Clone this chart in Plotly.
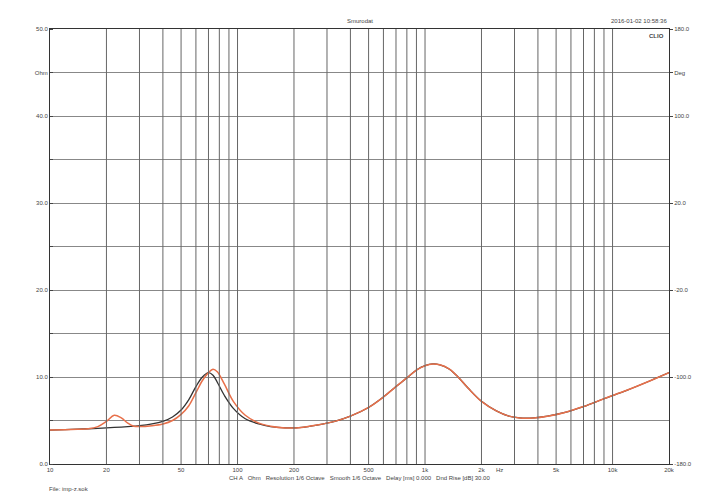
import plotly.graph_objects as go

# impedance curves (Hz, Ohm)
freq = [10, 12, 14, 16, 18, 20, 22, 24, 26, 28, 30, 35, 40, 45, 50, 55, 60, 65, 70, 74, 78, 85,
        95, 110, 130, 150, 180, 220, 270, 330, 400, 500, 600, 700, 800, 900, 1000, 1100, 1200,
        1350, 1500, 1700, 2000, 2400, 2800, 3200, 3800, 4500, 5500, 7000, 9000, 12000, 16000, 20000]
black = [3.9, 3.95, 4.0, 4.05, 4.1, 4.15, 4.2, 4.25, 4.3, 4.35, 4.4, 4.6, 4.9, 5.4, 6.2, 7.4, 8.9, 10.0, 10.5, 10.2, 9.4, 7.9,
         6.4, 5.2, 4.6, 4.3, 4.15, 4.2, 4.5, 4.9, 5.5, 6.5, 7.7, 8.9, 9.9, 10.8, 11.3, 11.5, 11.4,
         10.9, 10.0, 8.7, 7.2, 6.1, 5.5, 5.3, 5.3, 5.5, 5.9, 6.6, 7.5, 8.5, 9.6, 10.5]
red = [3.9, 3.95, 4.0, 4.05, 4.3, 4.9, 5.6, 5.3, 4.7, 4.35, 4.3, 4.4, 4.6, 5.0, 5.7, 6.7, 8.2, 9.6, 10.5, 10.9, 10.6, 9.2,
       7.2, 5.6, 4.7, 4.35, 4.15, 4.2, 4.5, 4.9, 5.5, 6.5, 7.7, 8.9, 9.9, 10.8, 11.3, 11.5, 11.4,
       10.9, 10.0, 8.7, 7.2, 6.1, 5.5, 5.3, 5.3, 5.5, 5.9, 6.6, 7.5, 8.5, 9.6, 10.5]

x_ticks = [10, 20, 50, 100, 200, 500, 1000, 2000, 2500, 5000, 10000, 20000]
x_labels = ["10", "20", "50", "100", "200", "500", "1k", "2k", "Hz", "5k", "10k", "20k"]
grid_freqs = [20, 30, 40, 50, 60, 70, 80, 90, 100, 200, 300, 400, 500, 600, 700, 800, 900,
              1000, 2000, 3000, 4000, 5000, 6000, 7000, 8000, 9000, 10000]
y_ticks = [0, 10, 20, 30, 40, 45, 50]
y_labels = ["0.0", "10.0", "20.0", "30.0", "40.0", "Ohm", "50.0"]
deg_labels = ["-180.0", "-100.0", "-20.0", "20.0", "100.0", "Deg", "180.0"]

fig = go.Figure()
fig.add_trace(go.Scatter(x=freq, y=black, mode="lines", line=dict(color="#333333", width=1.3),
                         line_shape="spline", showlegend=False))
fig.add_trace(go.Scatter(x=freq, y=red, mode="lines", line=dict(color="#e8704a", width=1.5),
                         line_shape="spline", showlegend=False))
# dummy trace to show right-hand axis
fig.add_trace(go.Scatter(x=[10], y=[0], yaxis="y2", mode="markers", marker=dict(opacity=0),
                         showlegend=False, hoverinfo="skip"))

for f in grid_freqs:
    fig.add_vline(x=f, line=dict(color="#666666", width=1))

tick_font = dict(family="Liberation Sans", size=6, color="#444444")
fig.update_layout(
    width=705, height=497, plot_bgcolor="white", paper_bgcolor="white",
    margin=dict(l=42, r=44, t=21, b=41),
    xaxis=dict(type="log", range=[1, 4.30103], tickvals=x_ticks, ticktext=x_labels,
               showgrid=False, showline=True, linecolor="#333333", mirror=True,
               tickfont=tick_font, ticks="", automargin=False),
    yaxis=dict(range=[0, 50], tickvals=y_ticks, ticktext=y_labels, tickfont=tick_font,
               gridcolor="#888888", showline=True, linecolor="#333333", mirror=True,
               ticks="", zeroline=False, automargin=False,
               minor=dict(dtick=5, showgrid=True, gridcolor="#888888", ticks="inside", ticklen=3)),
    yaxis2=dict(overlaying="y", side="right", range=[0, 50], tickvals=y_ticks,
                ticktext=deg_labels, tickfont=tick_font, showgrid=False, ticks="outside",
                ticklen=3, zeroline=False, automargin=False),
)

small = dict(family="Liberation Sans", size=6, color="#444444")
fig.add_annotation(text="Smurodat", x=0.5, y=1.0, xref="paper", yref="paper", yanchor="bottom",
                   yshift=3, showarrow=False, font=small)
fig.add_annotation(text="2016-01-02 10:58:36", x=1.0, y=1.0, xref="paper", yref="paper",
                   xanchor="right", yanchor="bottom", yshift=3, showarrow=False, font=small)
fig.add_annotation(text="<b>CLIO</b>", x=0.995, y=0.995, xref="paper", yref="paper",
                   xanchor="right", yanchor="top", showarrow=False, font=small)
fig.add_annotation(text="CH A   Ohm   Resolution 1/6 Octave   Smooth 1/6 Octave   Delay [ms] 0.000   Dnd Rise [dB] 30.00",
                   x=0.5, y=0, xref="paper", yref="paper", yanchor="top", yshift=-9,
                   showarrow=False, font=small)
fig.add_annotation(text="File: imp-z.sok", x=-0.005, y=0, xref="paper", yref="paper",
                   xanchor="left", yanchor="top", yshift=-20, showarrow=False, font=small)

fig.write_html("out.html")
